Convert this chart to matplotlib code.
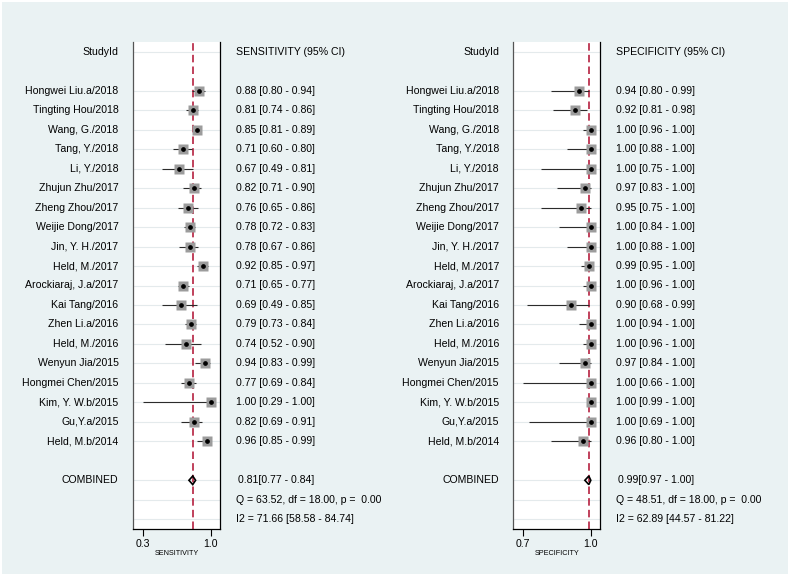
import numpy as np
import matplotlib
matplotlib.use('Agg')
import matplotlib.pyplot as plt
from matplotlib import transforms
from matplotlib.patches import Rectangle, Polygon

plt.rcParams['font.family'] = ['Liberation Sans', 'DejaVu Sans']

studies = [
    "Hongwei Liu.a/2018", "Tingting Hou/2018", "Wang, G./2018", "Tang, Y./2018",
    "Li, Y./2018", "Zhujun Zhu/2017", "Zheng Zhou/2017", "Weijie Dong/2017",
    "Jin, Y. H./2017", "Held, M./2017", "Arockiaraj, J.a/2017", "Kai Tang/2016",
    "Zhen Li.a/2016", "Held, M./2016", "Wenyun Jia/2015", "Hongmei Chen/2015",
    "Kim, Y. W.b/2015", "Gu,Y.a/2015", "Held, M.b/2014",
]

sens = [0.88, 0.81, 0.85, 0.71, 0.67, 0.82, 0.76, 0.78, 0.78, 0.92,
        0.71, 0.69, 0.79, 0.74, 0.94, 0.77, 1.00, 0.82, 0.96]
sens_lo = [0.80, 0.74, 0.81, 0.60, 0.49, 0.71, 0.65, 0.72, 0.67, 0.85,
           0.65, 0.49, 0.73, 0.52, 0.83, 0.69, 0.29, 0.69, 0.85]
sens_hi = [0.94, 0.86, 0.89, 0.80, 0.81, 0.90, 0.86, 0.83, 0.86, 0.97,
           0.77, 0.85, 0.84, 0.90, 0.99, 0.84, 1.00, 0.91, 0.99]

spec = [0.94, 0.92, 1.00, 1.00, 1.00, 0.97, 0.95, 1.00, 1.00, 0.99,
        1.00, 0.90, 1.00, 1.00, 0.97, 1.00, 1.00, 1.00, 0.96]
spec_lo = [0.80, 0.81, 0.96, 0.88, 0.75, 0.83, 0.75, 0.84, 0.88, 0.95,
           0.96, 0.68, 0.94, 0.96, 0.84, 0.66, 0.99, 0.69, 0.80]
spec_hi = [0.99, 0.98, 1.00, 1.00, 1.00, 1.00, 1.00, 1.00, 1.00, 1.00,
           1.00, 0.99, 1.00, 1.00, 1.00, 1.00, 1.00, 1.00, 1.00]

sens_comb = (0.81, 0.77, 0.84)
spec_comb = (0.99, 0.97, 1.00)
sens_q = "Q = 63.52, df = 18.00, p =  0.00"
sens_i2 = "I2 = 71.66 [58.58 - 84.74]"
spec_q = "Q = 48.51, df = 18.00, p =  0.00"
spec_i2 = "I2 = 62.89 [44.57 - 81.22]"

W, H = 790, 576
fig = plt.figure(figsize=(W / 100, H / 100), dpi=100, facecolor='white')
fig.patches.append(Rectangle((2 / W, 2 / H), (W - 4) / W, (H - 4) / H,
                             transform=fig.transFigure, facecolor='#eaf2f3',
                             edgecolor='none', zorder=-10))

FS = 7.6
RED = '#b5203f'


def px(x):
    return x / W


def forest(x_left, x_label_right, x_text, title, label, est, lo, hi, comb, qtxt, i2txt):
    ax = fig.add_axes([px(x_left), 1 - 529 / H, px(86.7), (529 - 42) / H])
    ax.set_facecolor('white')
    n = len(est)
    rows = np.arange(2, 2 + n)
    comb_row, q_row, i2_row = n + 3, n + 4, n + 5
    vmin = min(lo)
    span = 1.0 - vmin
    ax.set_xlim(vmin - 0.148 * span, 1.0 + 0.136 * span)
    ax.set_ylim(i2_row + 0.5, -0.5)

    for r in [0, *rows, comb_row, q_row, i2_row]:
        ax.axhline(r, color='#e4eaec', lw=0.8, zorder=0)

    ax.hlines(rows, lo, hi, color='#2b2b2b', lw=0.8, zorder=2)
    ax.plot(est, rows, 's', ms=6.6, color='#9c9c9c', mec='none', zorder=3)
    ax.plot(est, rows, 'o', ms=2.4, color='black', zorder=4)

    ax.axvline(comb[0], color=RED, lw=1.2, dashes=(4.5, 2.5), zorder=1)
    e, l, h = comb
    ax.add_patch(Polygon([(l, comb_row), (e, comb_row - 0.22), (h, comb_row), (e, comb_row + 0.22)],
                         closed=True, facecolor='none', edgecolor='black', lw=1.2, zorder=5))

    ax.set_yticks([])
    ax.set_xticks([vmin, 1.0])
    ax.set_xticklabels([f"{vmin:.1f}", "1.0"], fontsize=FS)
    ax.tick_params(axis='x', length=5, width=0.8, pad=2)
    ax.set_xlabel(label, fontsize=5.2, labelpad=1)
    ax.spines['top'].set_visible(False)
    ax.spines['left'].set_color('#555555')
    for s in ['left', 'right', 'bottom']:
        ax.spines[s].set_linewidth(0.9)

    tr = transforms.blended_transform_factory(fig.transFigure, ax.transData)
    kw = dict(transform=tr, fontsize=FS, va='center', clip_on=False)
    fig_rows = [0, *rows, comb_row]
    names = ["StudyId", *studies, "COMBINED"]
    for r, name in zip(fig_rows, names):
        ax.text(px(x_label_right), r, name, ha='right', **kw)
    ax.text(px(x_text), 0, title, ha='left', **kw)
    for r, a, b, c in zip(rows, est, lo, hi):
        ax.text(px(x_text), r, f"{a:.2f} [{b:.2f} - {c:.2f}]", ha='left', **kw)
    ax.text(px(x_text + 2.5), comb_row, f"{e:.2f}[{l:.2f} - {h:.2f}]", ha='left', **kw)
    ax.text(px(x_text), q_row, qtxt, ha='left', **kw)
    ax.text(px(x_text), i2_row, i2txt, ha='left', **kw)
    return ax


forest(133.3, 118.5, 235.7, "SENSITIVITY (95% CI)", "SENSITIVITY",
       sens, sens_lo, sens_hi, sens_comb, sens_q, sens_i2)
forest(513.3, 499, 616, "SPECIFICITY (95% CI)", "SPECIFICITY",
       spec, spec_lo, spec_hi, spec_comb, spec_q, spec_i2)

fig.savefig('out.png', dpi=100, facecolor=fig.get_facecolor())
